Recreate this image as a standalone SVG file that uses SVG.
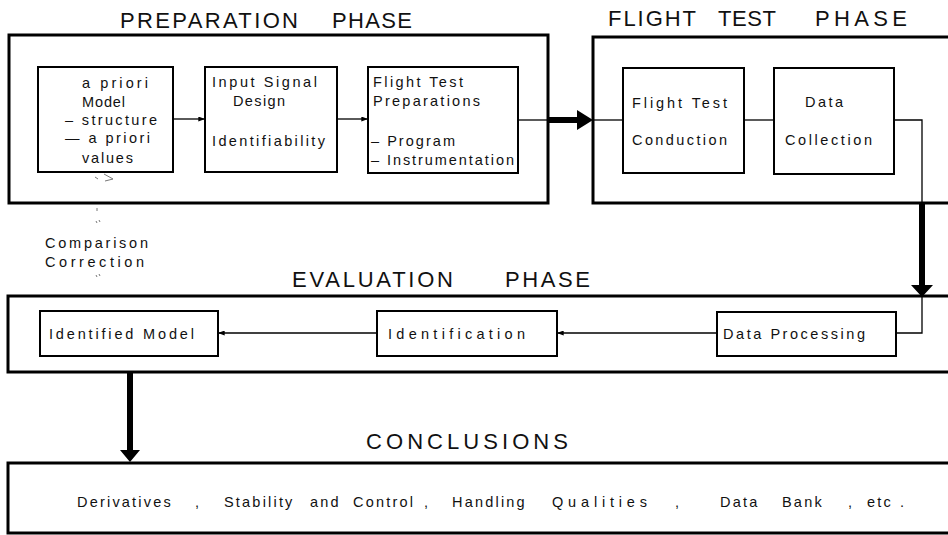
<svg xmlns="http://www.w3.org/2000/svg" width="948" height="535" viewBox="0 0 948 535">
<defs>
<style>
.outer{fill:none;stroke:#000;stroke-width:3}
.inner{fill:none;stroke:#000;stroke-width:2}
.ln{fill:none;stroke:#000;stroke-width:1.3}
.thick{fill:#000;stroke:none}
.t{font-family:"Liberation Sans",Arial,sans-serif;font-size:14.5px;fill:#111}
.c{font-family:"Liberation Sans",Arial,sans-serif;font-size:14.5px;fill:#111;letter-spacing:2.2px}
.h{font-family:"Liberation Sans",Arial,sans-serif;font-size:22px;fill:#111}
.faint{fill:none;stroke:#777;stroke-width:1}
</style>
<marker id="ah" viewBox="0 0 8 6" refX="8" refY="3" markerWidth="7" markerHeight="5" orient="auto" markerUnits="userSpaceOnUse">
<path d="M0,0 L8,3 L0,6 z" fill="#000"/>
</marker>
</defs>
<rect width="948" height="535" fill="#fff"/>

<g id="preparation-phase">
<rect class="outer" x="9" y="35" width="539" height="168"/>
<text class="h" x="120" y="28" textLength="178" lengthAdjust="spacing">PREPARATION</text>
<text class="h" x="332" y="28" textLength="80" lengthAdjust="spacing">PHASE</text>
</g>

<g id="a-priori-model">
<rect class="inner" x="38" y="67" width="135" height="105"/>
<text class="t" x="82" y="88" textLength="66" lengthAdjust="spacing">a priori</text>
<text class="t" x="82" y="107" textLength="43" lengthAdjust="spacing">Model</text>
<text class="t" x="65" y="125" textLength="92" lengthAdjust="spacing">– structure</text>
<text class="t" x="65" y="143" textLength="85" lengthAdjust="spacing">— a priori</text>
<text class="t" x="82" y="163" textLength="51" lengthAdjust="spacing">values</text>
</g>

<g id="input-signal-design">
<rect class="inner" x="205" y="67" width="132" height="105"/>
<text class="t" x="212" y="87" textLength="105" lengthAdjust="spacing">Input Signal</text>
<text class="t" x="233" y="106" textLength="52" lengthAdjust="spacing">Design</text>
<text class="t" x="212" y="146" textLength="113" lengthAdjust="spacing">Identifiability</text>
</g>

<g id="flight-test-preparations">
<rect class="inner" x="368" y="67" width="150" height="106"/>
<text class="t" x="373" y="87" textLength="90" lengthAdjust="spacing">Flight Test</text>
<text class="t" x="373" y="106" textLength="107" lengthAdjust="spacing">Preparations</text>
<text class="t" x="371" y="146" textLength="84" lengthAdjust="spacing">– Program</text>
<text class="t" x="371" y="165" textLength="143" lengthAdjust="spacing">– Instrumentation</text>
</g>

<g id="flight-test-phase">
<rect class="outer" x="593" y="37" width="370" height="166"/>
<text class="h" x="608" y="26" textLength="88" lengthAdjust="spacing">FLIGHT</text>
<text class="h" x="718" y="26" textLength="58" lengthAdjust="spacing">TEST</text>
<text class="h" x="815" y="26" textLength="92" lengthAdjust="spacing">PHASE</text>
</g>

<g id="flight-test-conduction">
<rect class="inner" x="623" y="68" width="121" height="105"/>
<text class="t" x="632" y="108" textLength="95" lengthAdjust="spacing">Flight Test</text>
<text class="t" x="632" y="145" textLength="95" lengthAdjust="spacing">Conduction</text>
</g>

<g id="data-collection">
<rect class="inner" x="774" y="68" width="120" height="106"/>
<text class="t" x="805" y="107" textLength="38" lengthAdjust="spacing">Data</text>
<text class="t" x="785" y="145" textLength="87" lengthAdjust="spacing">Collection</text>
</g>

<g id="evaluation-phase">
<rect class="outer" x="8" y="296" width="955" height="76"/>
<text class="h" x="292" y="287" textLength="161" lengthAdjust="spacing">EVALUATION</text>
<text class="h" x="505" y="287" textLength="85" lengthAdjust="spacing">PHASE</text>
</g>

<g id="identified-model">
<rect class="inner" x="40" y="311" width="178" height="45"/>
<text class="t" x="49" y="339" textLength="145" lengthAdjust="spacing">Identified Model</text>
</g>

<g id="identification">
<rect class="inner" x="377" y="311" width="180" height="45"/>
<text class="t" x="388" y="339" textLength="137" lengthAdjust="spacing">Identification</text>
</g>

<g id="data-processing">
<rect class="inner" x="717" y="312" width="179" height="44"/>
<text class="t" x="723" y="339" textLength="142" lengthAdjust="spacing">Data Processing</text>
</g>

<g id="comparison-correction">
<text class="t" x="45" y="248" textLength="103" lengthAdjust="spacing">Comparison</text>
<text class="t" x="45" y="267" textLength="99" lengthAdjust="spacing">Correction</text>
<path class="faint" d="M95,177 l3,2 M104,174 l9,5 l-8,2 M97,208 v3 M96,221 l1,2 M99,220 l1,2 M96,275 l1,2 M99,274 l1,2"/>
</g>

<g id="conclusions">
<rect class="outer" x="8" y="463" width="955" height="70"/>
<text class="h" x="366" y="449" textLength="202" lengthAdjust="spacing">CONCLUSIONS</text>
<text class="c" x="77" y="507">Derivatives</text>
<text class="c" x="195" y="507">,</text>
<text class="c" x="224" y="507">Stability</text>
<text class="c" x="310" y="507">and</text>
<text class="c" x="353" y="507">Control</text>
<text class="c" x="424" y="507">,</text>
<text class="c" x="452" y="507">Handling</text>
<text class="t" x="552" y="507" textLength="95" lengthAdjust="spacing">Qualities</text>
<text class="c" x="675" y="507">,</text>
<text class="c" x="720" y="507">Data</text>
<text class="c" x="782" y="507">Bank</text>
<text class="c" x="848" y="507">,</text>
<text class="c" x="867" y="507">etc</text>
<text class="c" x="900" y="507">.</text>
</g>

<g id="connectors">
<line class="ln" x1="173" y1="119" x2="205" y2="119" marker-end="url(#ah)"/>
<line class="ln" x1="337" y1="119" x2="368" y2="119" marker-end="url(#ah)"/>
<line class="ln" x1="518" y1="120" x2="548" y2="120"/>
<path class="thick" d="M548,117 H577 V110 L593,120 L577,130 V123 H548 Z"/>
<line class="ln" x1="593" y1="120" x2="623" y2="120"/>
<line class="ln" x1="744" y1="120" x2="774" y2="120"/>
<polyline class="ln" points="894,120 922,120 922,203"/>
<path class="thick" d="M919,203 H925 V285 H933 L922,297 L911,285 H919 Z"/>
<polyline class="ln" points="922,297 922,333 896,333"/>
<line class="ln" x1="717" y1="333" x2="557" y2="333" marker-end="url(#ah)"/>
<line class="ln" x1="377" y1="333" x2="218" y2="333" marker-end="url(#ah)"/>
<path class="thick" d="M127,372 H133 V450 H140 L130,462 L120,450 H127 Z"/>
</g>
</svg>
